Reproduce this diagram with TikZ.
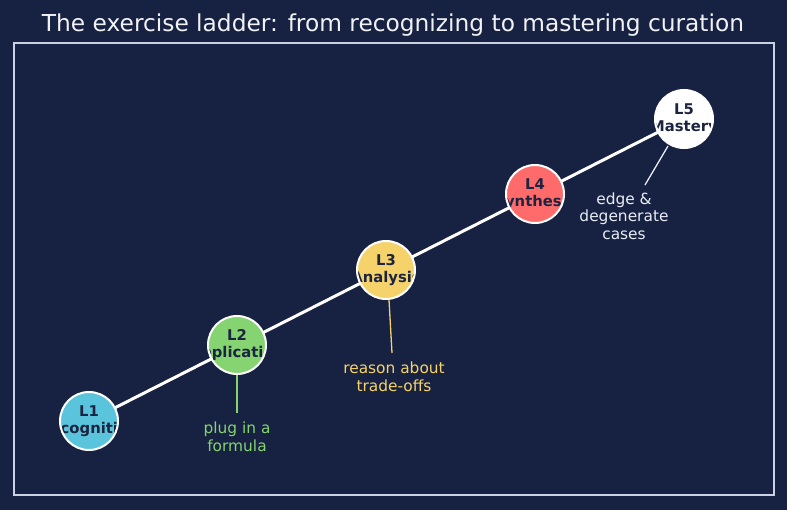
\documentclass[tikz,border=0pt]{standalone}
\usepackage{fontspec}
\setmainfont{DejaVu Sans}
\begin{document}
\definecolor{bg}{HTML}{172141}
\definecolor{frame}{HTML}{C9D1E3}
\definecolor{ink}{HTML}{1B2440}
\definecolor{cA}{HTML}{5BC4DD}
\definecolor{cB}{HTML}{86D372}
\definecolor{cC}{HTML}{F6D36A}
\definecolor{cD}{HTML}{FF6B6B}
\definecolor{cE}{HTML}{FFFFFF}
\definecolor{tB}{HTML}{86D372}
\definecolor{tC}{HTML}{F6D36A}
\definecolor{tE}{HTML}{E8ECF4}
\begin{tikzpicture}[x=1pt,y=-1pt,
  lvl/.style={circle, minimum size=58pt, inner sep=0pt, draw=white, line width=2pt,
    path picture={\node[font=\fontsize{14.8}{17}\selectfont\bfseries, text=ink, align=center]
      at (path picture bounding box.center) {#1};}},
  ann/.style={font=\fontsize{15.4}{17.5}\selectfont, align=center},
  spine/.style={white, line width=3pt},
  tick/.style={line width=1.3pt}]
\fill[bg] (0,0) rectangle (787,510);
\useasboundingbox (0,0) rectangle (787,510);
\node[font=\fontsize{23.3}{27}\selectfont, text=white!94!bg] (title) at (393,25) {The exercise ladder: from recognizing to mastering curation};
\draw[frame, line width=1.2pt] (14,43) rectangle (774,495);
\coordinate (p1) at (89,421);
\coordinate (p5) at (684,119);
\draw[spine] (p1) -- (p5);
\node[lvl={L1\\Recognition}, fill=cA] (l1) at (89,421) {};
\node[lvl={L2\\Application}, fill=cB] (l2) at (237,345) {};
\node[lvl={L3\\Analysis}, fill=cC] (l3) at (386,270) {};
\node[lvl={L4\\Synthesis}, fill=cD] (l4) at (535,194) {};
\node[lvl={L5\\Mastery}, fill=cE] (l5) at (684,119) {};
\node[ann, text=tB] (a2) at (237,437) {plug in a\\formula};
\node[ann, text=tC] (a3) at (394,377) {reason about\\trade-offs};
\node[ann, text=tE] (a5) at (624,216) {edge \&\\degenerate\\cases};
\coordinate (e2) at (237,413);
\coordinate (e3) at (392,353);
\coordinate (e5) at (645,185);
\draw[tick, tB] (l2.south) -- (e2);
\draw[tick, tC] (389,300) -- (e3);
\draw[tick, tE] (668,146) -- (e5);
\end{tikzpicture}
\end{document}
